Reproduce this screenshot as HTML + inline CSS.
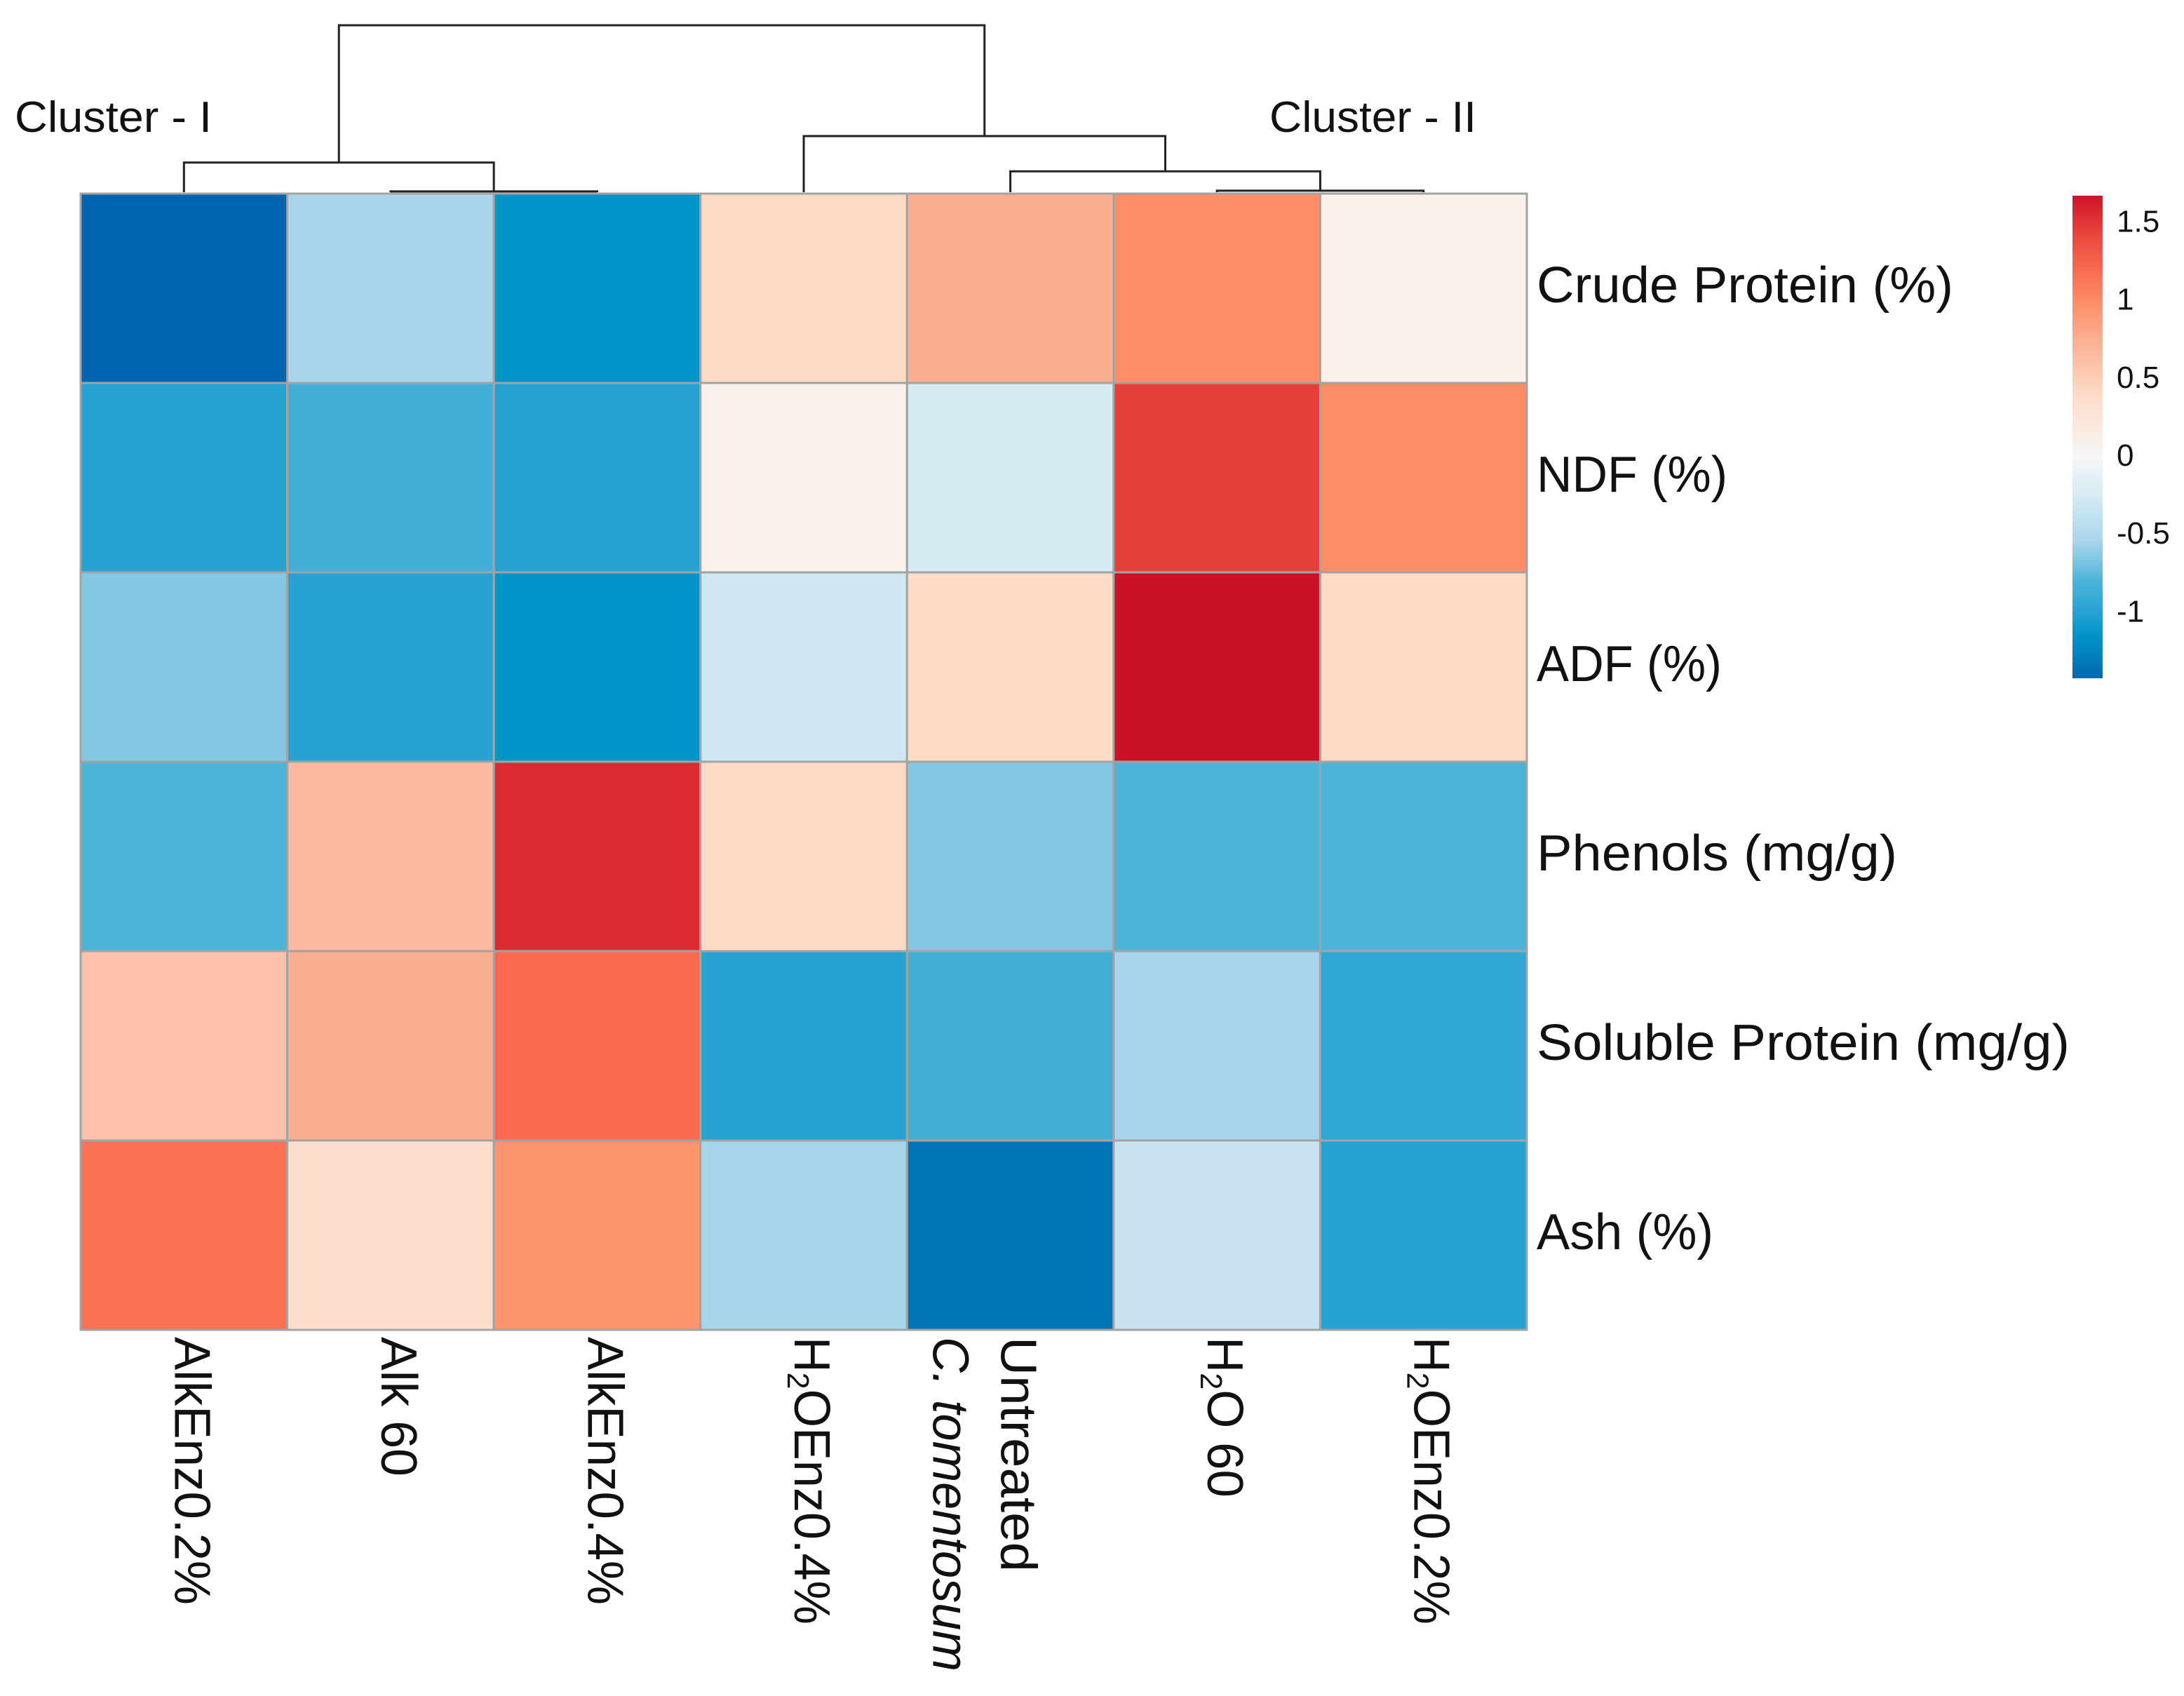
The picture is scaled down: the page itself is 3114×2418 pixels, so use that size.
<!DOCTYPE html>
<html><head><meta charset="utf-8"><style>
html,body{margin:0;padding:0;background:#fff;}
svg{display:block;}
text{font-family:"Liberation Sans",sans-serif;fill:#111;}
</style></head><body>
<svg id="chart" width="3114" height="2418" viewBox="0 0 3114 2418" xmlns="http://www.w3.org/2000/svg">
<g id="dendro" stroke="#222" stroke-width="3" fill="none"></g>
<text x="21" y="188" font-size="62" textLength="281" lengthAdjust="spacingAndGlyphs">Cluster - I</text>
<text x="1810" y="188" font-size="62" textLength="295" lengthAdjust="spacingAndGlyphs">Cluster - II</text>
<g id="cells"></g>
<g id="rowlabels"></g>
<g id="collabels"></g>
<g id="legend"></g>
</svg>
<script>
const columns = ["AlkEnz0.2%","Alk 60","AlkEnz0.4%","H2OEnz0.4%","Untreated C. tomentosum","H2O 60","H2OEnz0.2%"];
const rows = ["Crude Protein (%)","NDF (%)","ADF (%)","Phenols (mg/g)","Soluble Protein (mg/g)","Ash (%)"];
const rowCrudeProtein = [-1.45,-0.55,-1.15,0.4,0.75,1.0,0.08];
const rowNDF = [-1.0,-0.85,-1.0,0.08,-0.25,1.45,1.0];
const rowADF = [-0.65,-1.0,-1.15,-0.3,0.4,1.69,0.4];
const rowPhenols = [-0.8,0.65,1.55,0.4,-0.65,-0.8,-0.8];
const rowSolubleProtein = [0.6,0.75,1.2,-1.0,-0.85,-0.55,-0.95];
const rowAsh = [1.15,0.35,0.95,-0.55,-1.35,-0.35,-1.0];
const legendTicks = [1.5,1,0.5,0,-0.5,-1];
const legendMin = -1.43, legendMax = 1.66;
// dendrogram merges: [leftNode, rightNode, height]; leaves 0..6, new nodes 7..
const merges = [[1,2,0.002],[5,6,0.004],[4,8,0.055],[0,7,0.078],[3,9,0.148],[10,11,0.44]];

const values=[rowCrudeProtein,rowNDF,rowADF,rowPhenols,rowSolubleProtein,rowAsh];
const NS="http://www.w3.org/2000/svg";
const X0=115,X1=2177,Y0=276,Y1=1896;
const cw=(X1-X0)/columns.length, rh=(Y1-Y0)/rows.length;
const xCol=i=>X0+i*cw, yRow=j=>Y0+j*rh;
const stops=[[-1.45,[0,100,174]],[-1.15,[0,148,200]],[-1.0,[38,163,211]],[-0.8,[77,179,217]],[-0.55,[168,213,234]],[-0.25,[214,235,243]],[0,[247,247,247]],[0.1,[249,239,233]],[0.4,[253,219,199]],[0.75,[252,174,144]],[1.0,[252,141,102]],[1.2,[248,105,80]],[1.45,[231,64,58]],[1.69,[202,17,38]]];
function color(v){if(v<=stops[0][0])return rgb(stops[0][1]);for(let i=1;i<stops.length;i++){if(v<=stops[i][0]){const a=stops[i-1],b=stops[i],t=(v-a[0])/(b[0]-a[0]);return rgb(a[1].map((c,k)=>c+(b[1][k]-c)*t));}}return rgb(stops[stops.length-1][1]);}
function rgb(c){return "rgb("+c.map(Math.round).join(",")+")";}
function mk(tag,attrs,parent){const e=document.createElementNS(NS,tag);for(const k in attrs)e.setAttribute(k,attrs[k]);parent.appendChild(e);return e;}

const cells=document.getElementById('cells');
values.forEach((r,j)=>r.forEach((v,i)=>{
 const el=mk('rect',{x:xCol(i),y:yRow(j),width:cw,height:rh,fill:color(v),stroke:'#a3a3a3','stroke-width':3},cells);
 
 
}));

const rl=document.getElementById('rowlabels');
const rowLen=[594,272,264,514,760,252];
rows.forEach((r,j)=>{
 const t=mk('text',{x:2191,y:yRow(j)+rh/2+20,'font-size':72,textLength:rowLen[j],lengthAdjust:'spacingAndGlyphs'},rl);
 t.textContent=r;
 
 
});

const cl=document.getElementById('collabels');
const colLen=[382,199,382,410,335,229,410];
columns.forEach((c,i)=>{
 const cx=xCol(i)+cw/2;
 const g=mk('g',{transform:'translate('+(cx-13)+',1906) rotate(90)'},cl);
 
 
 if(c.startsWith('Untreated')){
  const t=mk('text',{x:0,y:0,'font-size':72,textLength:colLen[i],lengthAdjust:'spacingAndGlyphs'},g);t.textContent='Untreated';
  const t2=mk('text',{x:0,y:97,'font-size':72,'font-style':'italic',textLength:477,lengthAdjust:'spacingAndGlyphs'},g);t2.textContent='C. tomentosum';
 } else {
  const t=mk('text',{x:0,y:0,'font-size':72,textLength:colLen[i],lengthAdjust:'spacingAndGlyphs'},g);
  if(c.startsWith('H2O')){
   t.appendChild(document.createTextNode('H'));
   const s=mk('tspan',{'font-size':44,dy:10},t);s.textContent='2';
   const s2=mk('tspan',{dy:-10},t);s2.textContent=c.slice(2);
  } else t.textContent=c;
 }
});

// dendrogram
const dg=document.getElementById('dendro');
const hY=h=>274-(h/0.44)*(274-36);
const nodes=columns.map((c,i)=>({x:xCol(i)+cw/2,h:0}));
merges.forEach(m=>{
 const a=nodes[m[0]],b=nodes[m[1]],y=hY(m[2]);
 const p=mk('path',{d:'M'+a.x+','+hY(a.h)+'V'+y+'H'+b.x+'V'+hY(b.h)},dg);
 
 
 nodes.push({x:(a.x+b.x)/2,h:m[2]});
});

// legend
const lg=document.getElementById('legend');
const LX=2955,LW=43,LT=279,LB=966;
const lY=v=>LT+(legendMax-v)/(legendMax-legendMin)*(LB-LT);
for(let k=0;k<160;k++){
 const v0=legendMax-k*(legendMax-legendMin)/160;
 const r=mk('rect',{x:LX,y:lY(v0),width:LW,height:(LB-LT)/160+1,fill:color(v0)},lg);
 
 
}
legendTicks.forEach(v=>{
 const t=mk('text',{x:3018,y:lY(v)+16,'font-size':44},lg);
 t.textContent=String(v);
 
 
});
</script>
</body></html>
